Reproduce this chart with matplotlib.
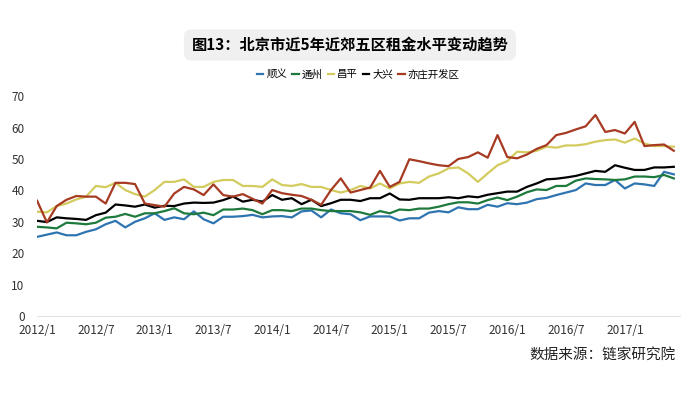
import matplotlib
matplotlib.use("Agg")
from matplotlib import pyplot as plt

plt.rcParams['font.family'] = ['Noto Sans CJK SC', 'DejaVu Sans']

# monthly data 2012/1 .. 2017/6
months = ["%d/%d" % (2012 + i // 12, i % 12 + 1) for i in range(66)]

shunyi = [25.2, 25.9, 26.6, 25.7, 25.7, 26.8, 27.6, 29.2, 30.3, 28.2, 30.0, 31.1,
          32.7, 30.6, 31.4, 30.8, 33.3, 30.8, 29.5, 31.6, 31.6, 31.8, 32.2, 31.4,
          31.7, 31.8, 31.4, 33.3, 33.6, 31.4, 33.9, 32.7, 32.4, 30.5, 31.7, 31.7,
          31.7, 30.4, 31.1, 31.1, 32.9, 33.4, 33.0, 34.6, 34.0, 34.0, 35.4, 34.8,
          35.9, 35.6, 36.1, 37.2, 37.6, 38.5, 39.3, 40.1, 42.2, 41.7, 41.7, 43.3,
          40.6, 42.2, 41.9, 41.4, 45.9, 45.1]
tongzhou = [28.4, 28.2, 27.9, 29.7, 29.5, 29.2, 29.7, 31.3, 31.6, 32.5, 31.6, 32.7,
            32.7, 33.4, 34.3, 32.7, 32.4, 32.9, 32.1, 33.9, 33.9, 34.2, 33.7, 32.4,
            33.7, 33.7, 33.4, 34.2, 34.2, 33.7, 33.4, 33.4, 33.4, 33.0, 32.2, 33.4,
            32.7, 33.9, 33.7, 34.2, 34.2, 34.8, 35.6, 36.2, 36.2, 35.8, 36.9, 37.7,
            36.9, 38.0, 39.4, 40.3, 40.1, 41.4, 41.4, 43.1, 43.8, 43.6, 43.5, 43.3,
            43.5, 44.4, 44.4, 44.2, 44.9, 43.8]
changping = [33.2, 33.0, 35.0, 35.8, 37.1, 38.0, 41.4, 41.0, 42.4, 40.1, 38.8, 38.0,
             40.1, 42.7, 42.7, 43.5, 41.1, 41.1, 42.7, 43.3, 43.3, 41.4, 41.4, 41.1,
             43.5, 41.7, 41.4, 42.0, 41.1, 41.1, 40.1, 39.3, 40.1, 41.4, 40.6, 42.2,
             40.6, 42.2, 42.7, 42.4, 44.4, 45.4, 47.0, 47.3, 45.4, 42.7, 45.4, 48.0,
             49.3, 52.3, 52.1, 52.6, 53.9, 53.6, 54.3, 54.3, 54.7, 55.5, 56.0, 56.2,
             55.2, 56.5, 54.9, 54.1, 54.1, 53.9]
daxing = [30.3, 29.9, 31.4, 31.1, 30.9, 30.6, 32.1, 32.9, 35.5, 35.2, 34.8, 35.5,
          34.5, 35.1, 35.0, 35.8, 36.1, 36.0, 36.1, 36.9, 38.0, 36.4, 37.0, 36.4,
          38.5, 37.0, 37.5, 35.6, 37.0, 35.0, 35.9, 37.0, 37.0, 36.6, 37.5, 37.5,
          39.0, 37.1, 37.0, 37.5, 37.5, 37.5, 37.8, 37.5, 38.1, 37.8, 38.6, 39.1,
          39.6, 39.6, 41.1, 42.2, 43.5, 43.7, 44.1, 44.6, 45.4, 46.2, 45.9, 48.0,
          47.2, 46.5, 46.5, 47.3, 47.3, 47.5]
yizhuang = [36.7, 29.8, 35.0, 37.0, 38.2, 38.0, 38.0, 35.8, 42.4, 42.4, 42.0, 35.8,
            35.3, 34.8, 39.0, 41.1, 40.3, 38.5, 41.9, 38.5, 38.0, 38.8, 37.3, 35.8,
            40.1, 39.1, 38.6, 38.2, 37.0, 35.4, 40.1, 43.8, 39.3, 40.1, 40.9, 46.2,
            41.1, 42.7, 49.9, 49.3, 48.6, 48.0, 47.7, 50.0, 50.6, 52.1, 50.4, 57.6,
            50.6, 50.2, 51.4, 53.2, 54.4, 57.6, 58.3, 59.4, 60.4, 64.0, 58.6, 59.2,
            58.1, 61.8, 54.1, 54.4, 54.6, 52.6]

series = [("顺义", shunyi, "#2e74b0"), ("通州", tongzhou, "#1e7a3c"),
          ("昌平", changping, "#d3cb5e"), ("大兴", daxing, "#000000"),
          ("亦庄开发区", yizhuang, "#a63a22")]

fig = plt.figure(figsize=(7, 3.94), dpi=100)
ax = fig.add_axes([0.053, 0.198, 0.918, 0.558])

x = list(range(len(months)))
for name, vals, col in series:
    ax.plot(x, vals, color=col, lw=1.6, label=name)

ax.set_xlim(0, 65.6)
ax.set_ylim(0, 70)
ax.set_yticks(range(0, 71, 10))
ax.set_xticks(x[::6])
ax.set_xticklabels(months[::6])
for s in ["top", "right", "left"]:
    ax.spines[s].set_visible(False)
ax.spines["bottom"].set_color("#e4e4e4")
ax.tick_params(length=0, labelsize=8.5, colors="#333333")
ax.tick_params(axis="y", pad=9)
ax.tick_params(axis="x", pad=6)

fig.text(0.5, 0.886, "图13：北京市近5年近郊五区租金水平变动趋势", ha="center", va="center",
         fontsize=11, fontweight="bold",
         bbox=dict(boxstyle="round,pad=0.5", fc="#f0f0f0", ec="none"))

ax.legend(loc="center", bbox_to_anchor=(0.5, 1.1), ncol=5, frameon=False,
          fontsize=7.5, handlelength=0.6, handletextpad=0.3, columnspacing=0.5)

fig.text(0.965, 0.098, "数据来源：链家研究院", ha="right", va="center", fontsize=10.5,
         color="#222222")

fig.savefig("out.png", dpi=100)
